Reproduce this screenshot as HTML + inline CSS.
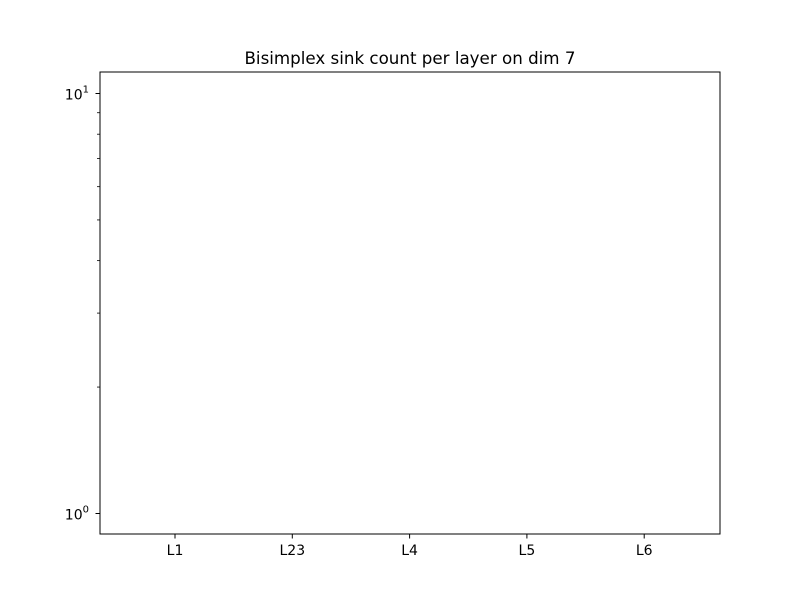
<!DOCTYPE html>
<html><head><meta charset="utf-8"><style>
body{margin:0;background:#fff;}
svg{display:block;font-family:"DejaVu Sans","Liberation Sans",sans-serif;}
</style></head><body>
<svg id="chart" width="800" height="600" viewBox="0 0 800 600">
<rect width="800" height="600" fill="#fff"/>
<text x="410" y="64" text-anchor="middle" font-size="16.7">Bisimplex sink count per layer on dim 7</text>
<g id="ticks"></g>
<rect x="100" y="72" width="620" height="462" fill="none" stroke="#000" stroke-width="1"/>
</svg>
<script>
const categories = ["L1","L23","L4","L5","L6"];
const sinkCounts = [];
const majorTicks = [1, 10];
const majorLabels = ["0", "1"];
const minorTicks = [2,3,4,5,6,7,8,9];
const NS="http://www.w3.org/2000/svg";
const g=document.getElementById('ticks');
function yScale(v){return 513.5-420*Math.log10(v);}
function xScale(i){return 175+117.3*i;}
function el(t,a){const e=document.createElementNS(NS,t);for(const k in a)e.setAttribute(k,a[k]);return e;}
majorTicks.forEach((v,i)=>{
  const y=yScale(v);
  const t=el('line',{x1:95.5,x2:100.5,y1:y,y2:y,stroke:'#000','stroke-width':1});
  
  
  g.appendChild(t);
  const tx=el('text',{x:89,y:y+6,'font-size':14,'text-anchor':'end'});
  
  
  tx.textContent='10';
  const s=el('tspan',{dy:-7,'font-size':10});s.textContent=majorLabels[i];tx.appendChild(s);
  g.appendChild(tx);
});
minorTicks.forEach(v=>{
  const y=yScale(v);
  const t=el('line',{x1:97,x2:100.5,y1:y,y2:y,stroke:'#000','stroke-width':0.8});
  
  
  g.appendChild(t);
});
categories.forEach((c,i)=>{
  const x=xScale(i);
  const t=el('line',{x1:x,x2:x,y1:533.5,y2:538.5,stroke:'#000','stroke-width':1});
  
  
  g.appendChild(t);
  const tx=el('text',{x:x,y:555,'font-size':14,'text-anchor':'middle'});
  
  
  tx.textContent=c;g.appendChild(tx);
  if(sinkCounts[i]>0){
    const y=yScale(sinkCounts[i]);
    const b=el('rect',{x:x-47,y:y,width:94,height:Math.max(0,534-y),fill:'#1f77b4'});
    
    
    g.appendChild(b);
  }
});
</script>
</body></html>
